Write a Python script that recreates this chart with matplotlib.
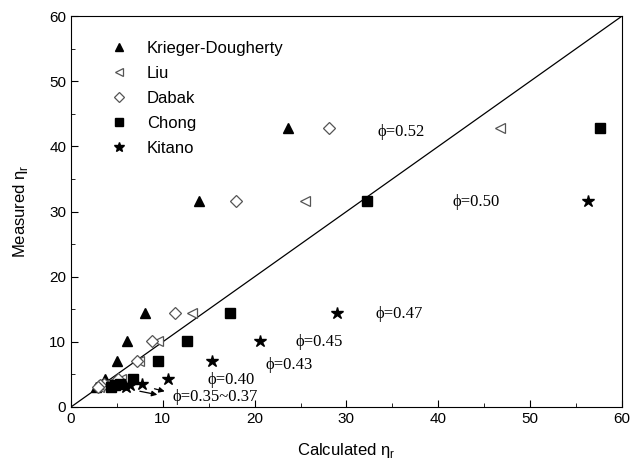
import matplotlib
matplotlib.use("Agg")
import matplotlib.pyplot as plt
from matplotlib.ticker import MultipleLocator

nan = float("nan")

# measured relative viscosity, one value per solids fraction
measured = [42.8, 31.7, 14.5, 10.2, 7.0, 4.3, 3.6, 3.3, 3.0]

# calculated relative viscosity per model
krieger = [23.6, 13.9, 8.1, 6.1, 5.0, 3.7, 3.4, 3.0, 2.7]
liu = [46.7, 25.5, 13.2, 9.5, 7.4, 5.5, 3.9, 3.5, 3.1]
dabak = [28.1, 18.0, 11.3, 8.8, 7.2, 5.1, 3.6, 3.2, 2.9]
chong = [57.6, 32.2, 17.3, 12.6, 9.5, 6.8, 5.3, 4.8, 4.4]
kitano = [nan, 56.3, 29.0, 20.6, 15.4, 10.6, 7.7, 6.4, 6.0]

phi_labels = ["ϕ=0.52", "ϕ=0.50", "ϕ=0.47", "ϕ=0.45", "ϕ=0.43", "ϕ=0.40", "ϕ=0.35~0.37"]
phi_x = [33.4, 41.6, 33.2, 24.4, 21.2, 14.9, 11.1]
phi_y = [42.2, 31.5, 14.2, 9.9, 6.4, 4.1, 1.6]

sans = ["Liberation Sans", "DejaVu Sans"]
serif = ["Liberation Serif", "DejaVu Serif"]

fig = plt.figure(figsize=(6.31, 4.63), dpi=100)
ax = fig.add_axes([0.1125, 0.121, 0.873, 0.844])

ax.plot([0, 60], [0, 60], color="black", lw=0.9, zorder=1)

ax.plot(krieger, measured, "^", ms=7.5, color="black", ls="none", label="Krieger-Dougherty")
ax.plot(liu, measured, "<", ms=7.5, mfc="white", mec="#555555", mew=0.9, ls="none", label="Liu")
ax.plot(dabak, measured, "D", ms=6.5, mfc="white", mec="#555555", mew=0.9, ls="none", label="Dabak")
ax.plot(chong, measured, "s", ms=6.5, color="black", ls="none", label="Chong")
ax.plot(kitano, measured, "*", ms=9, color="black", ls="none", label="Kitano")

for lbl, x, y in zip(phi_labels, phi_x, phi_y):
    ax.text(x, y, lbl, fontsize=12, family=serif, va="center", ha="left")

# arrows pointing at the low-fraction cluster
for (x0, y0), (x1, y1) in [((7.2, 2.5), (9.7, 1.8)), ((8.8, 2.9), (10.5, 2.3))]:
    ax.annotate("", xy=(x1, y1), xytext=(x0, y0),
                arrowprops=dict(arrowstyle="-|>", color="black", lw=0.9,
                                mutation_scale=8))

ax.set_xlim(0, 60)
ax.set_ylim(0, 60)
ax.xaxis.set_major_locator(MultipleLocator(10))
ax.xaxis.set_minor_locator(MultipleLocator(5))
ax.yaxis.set_major_locator(MultipleLocator(10))
ax.yaxis.set_minor_locator(MultipleLocator(5))
ax.tick_params(which="both", direction="in", top=False, right=False, labelsize=11)
ax.tick_params(which="major", length=5)
ax.tick_params(which="minor", length=3)
for t in ax.get_xticklabels() + ax.get_yticklabels():
    t.set_family(sans)

ax.set_xlabel("Calculated η$_\\mathregular{r}$", fontsize=12, family=sans, labelpad=11)
ax.set_ylabel("Measured η$_\\mathregular{r}$", fontsize=12, family=sans, labelpad=14)

leg = ax.legend(loc="upper left", bbox_to_anchor=(0.035, 0.975), frameon=False,
                prop={"family": sans, "size": 12}, labelspacing=0.6,
                handletextpad=0.9, handlelength=1.6, markerscale=0.8, numpoints=1)

fig.savefig("out.png", dpi=100)
